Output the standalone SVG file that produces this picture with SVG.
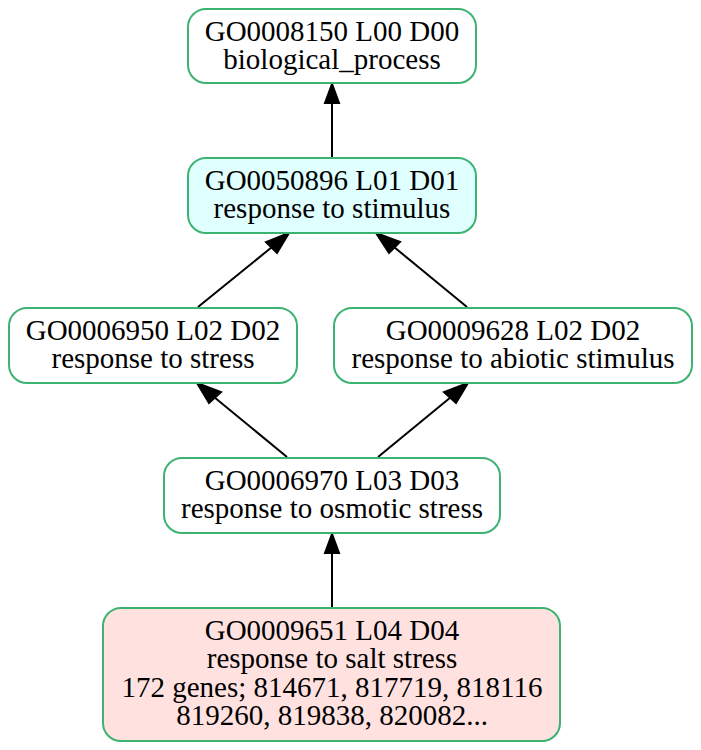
<svg xmlns="http://www.w3.org/2000/svg" width="701" height="750" viewBox="0 0 701 750">
<defs>
<style>
.box{stroke:#3cb371;stroke-width:2;fill:#ffffff}
.t{font-family:"Liberation Serif","Times New Roman",serif;font-size:29px;fill:#000;text-anchor:middle}
.e{stroke:#000;stroke-width:2;fill:none}
.ah{fill:#000;stroke:#000;stroke-width:2}
</style>
</defs>
<rect width="701" height="750" fill="#ffffff"/>
<g id="connectors">
<line class="e" x1="332" y1="158" x2="332" y2="103"/>
<polygon class="ah" points="332,84 325,103 339,103"/>
<line class="e" x1="198" y1="307" x2="272" y2="247"/>
<polygon class="ah" points="289,233 266,242 277,253"/>
<line class="e" x1="467" y1="307" x2="394" y2="247"/>
<polygon class="ah" points="376,233 389,253 400,242"/>
<line class="e" x1="287" y1="457" x2="214" y2="397"/>
<polygon class="ah" points="197,383 209,403 221,392"/>
<line class="e" x1="378" y1="457" x2="451" y2="397"/>
<polygon class="ah" points="468,383 444,392 456,403"/>
<line class="e" x1="332" y1="608" x2="332" y2="553"/>
<polygon class="ah" points="332,534 325,553 339,553"/>
</g>
<g id="GO0008150">
<rect class="box" x="188" y="9" width="288" height="74" rx="18" ry="18"/>
<text class="t" x="332" y="40.5">GO0008150 L00 D00</text>
<text class="t" x="332" y="68.5">biological_process</text>
</g>
<g id="GO0050896">
<rect class="box" x="188" y="158" width="288" height="75" rx="18" ry="18" style="fill:#e0ffff"/>
<text class="t" x="332" y="190">GO0050896 L01 D01</text>
<text class="t" x="332" y="218">response to stimulus</text>
</g>
<g id="GO0006950">
<rect class="box" x="9" y="308" width="288" height="75" rx="18" ry="18"/>
<text class="t" x="153" y="340">GO0006950 L02 D02</text>
<text class="t" x="153" y="368">response to stress</text>
</g>
<g id="GO0009628">
<rect class="box" x="334" y="308" width="358" height="75" rx="18" ry="18"/>
<text class="t" x="513" y="340">GO0009628 L02 D02</text>
<text class="t" x="513" y="368">response to abiotic stimulus</text>
</g>
<g id="GO0006970">
<rect class="box" x="164" y="458" width="336" height="75" rx="18" ry="18"/>
<text class="t" x="332" y="490">GO0006970 L03 D03</text>
<text class="t" x="332" y="518">response to osmotic stress</text>
</g>
<g id="GO0009651">
<rect class="box" x="103" y="608" width="457" height="133" rx="18" ry="18" style="fill:#ffe2e0"/>
<text class="t" x="332" y="639.5">GO0009651 L04 D04</text>
<text class="t" x="332" y="668">response to salt stress</text>
<text class="t" x="332" y="696.5">172 genes; 814671, 817719, 818116</text>
<text class="t" x="332" y="725">819260, 819838, 820082...</text>
</g>
</svg>
